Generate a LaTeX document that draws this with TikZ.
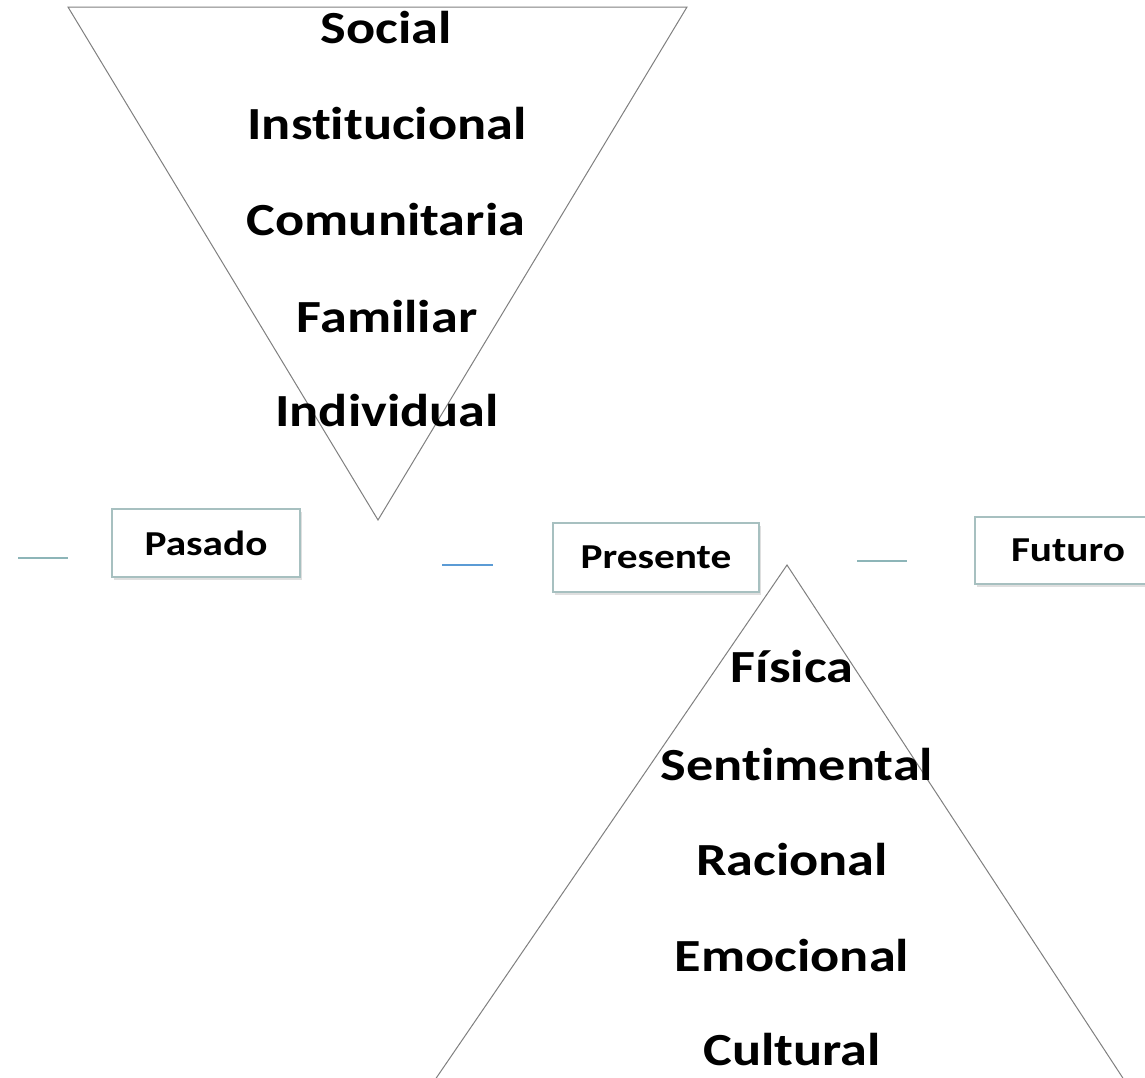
\documentclass[tikz,border=0pt]{standalone}
\usepackage{fontspec}
\setmainfont{Carlito}[FakeStretch=1.18, Ligatures=CommonOff]
\usepackage{xcolor}
\usetikzlibrary{positioning, shadows}
\definecolor{boxline}{HTML}{A7C0C0}
\definecolor{dashgrey}{HTML}{8DB5B8}
\definecolor{dashblue}{HTML}{5B9BD5}
\definecolor{trigrey}{HTML}{808080}
\tikzset{
    level/.style={
        font=\fontsize{46}{50}\selectfont\bfseries,
        inner sep=0pt
    },
    period/.style={
        rectangle,
        draw=boxline,
        line width=2pt,
        fill=white,
        minimum width=188pt,
        minimum height=68pt,
        font=\fontsize{35}{40}\selectfont\bfseries,
        drop shadow={opacity=0.25, shadow xshift=2pt, shadow yshift=-3pt}
    },
    tri/.style={
        draw=trigrey,
        line width=1pt
    },
    dashline/.style={
        line width=2pt
    }
}
\begin{document}
\begin{tikzpicture}[x=1pt, y=-1pt]

\clip (0,0) rectangle (1145,1077);
\fill[white] (0,0) rectangle (1145,1077);

% inverted triangle
\coordinate (pastL) at (68,7);
\coordinate (pastR) at (687,7);
\coordinate (pastTip) at (378,520);
\draw[tri] (pastL) -- (pastR) -- (pastTip) -- cycle;

% upright triangle
\coordinate (presTip) at (787,565);
\coordinate (presL) at (387,1150);
\coordinate (presR) at (1170,1150);
\draw[tri] (presTip) -- (presL) -- (presR) -- cycle;

\node[level] (social) at (386,28) {Social};
\node[level] (instit) at (387,124) {Institucional};
\node[level] (comun) at (386,220) {Comunitaria};
\node[level] (famil) at (387,317) {Familiar};
\node[level] (indiv) at (387,411) {Individual};

\node[level] (fisica) at (792,667) {Física};
\node[level] (sentim) at (797,765) {Sentimental};
\node[level] (racion) at (792,860) {Racional};
\node[level] (emocio) at (792,956) {Emocional};
\node[level] (cultur) at (792,1050) {Cultural};

\node[period] (pasado) at (206,543) {Pasado};
\node[period, minimum width=206pt, minimum height=69pt] (presente) at (656,557.5) {Presente};
\node[period, minimum width=186pt, minimum height=67pt] (futuro) at (1068,550.5) {Futuro};

% short dashes
\coordinate (d1) at (18,557.5);
\coordinate (d2) at (442,565);
\coordinate (d3) at (857,561);
\draw[dashline, dashgrey] (d1) -- ++(50,0);
\draw[dashline, dashblue] (d2) -- ++(51,0);
\draw[dashline, dashgrey] (d3) -- ++(50,0);

\end{tikzpicture}
\end{document}
